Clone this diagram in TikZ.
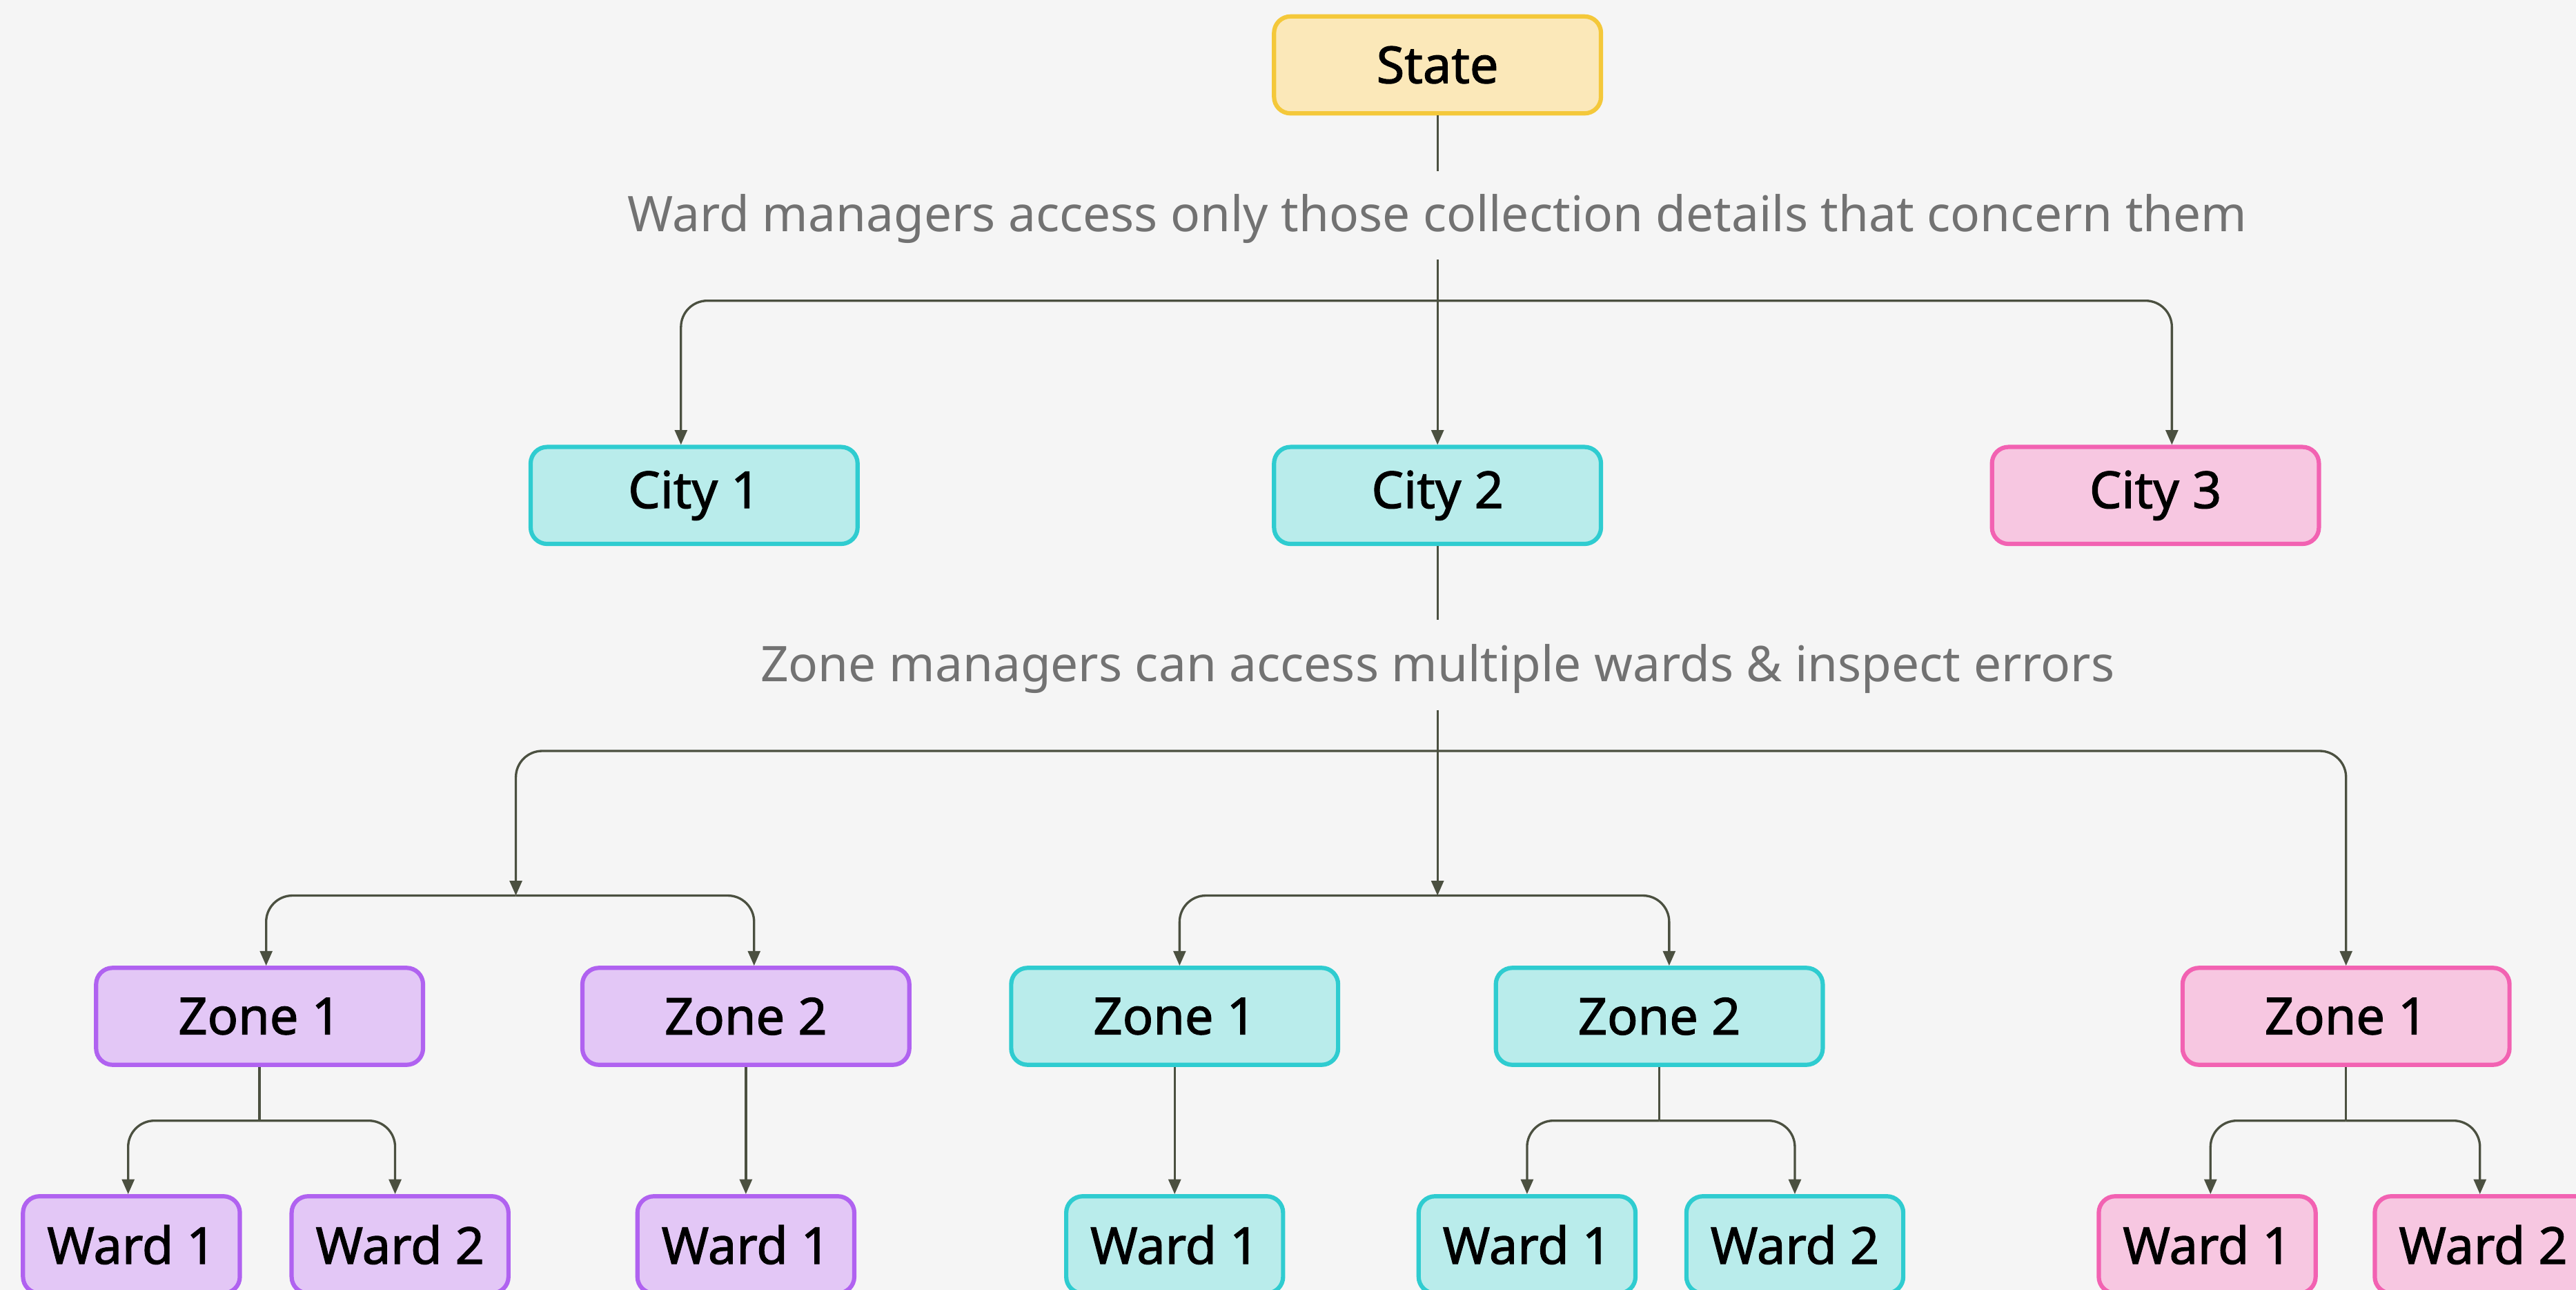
\documentclass[tikz,border=0pt]{standalone}
\usepackage{fontspec}
\setmainfont{Noto Sans}
\newfontfamily\labelfont[FakeBold=1.6]{Noto Sans}
\usetikzlibrary{arrows.meta}
\definecolor{bgC}{HTML}{F5F5F5}
\definecolor{connC}{HTML}{4B5040}
\definecolor{noteC}{HTML}{727272}
\definecolor{yelF}{HTML}{FBE8B9}
\definecolor{yelB}{HTML}{F4C83A}
\definecolor{cyaF}{HTML}{B9ECEB}
\definecolor{cyaB}{HTML}{2FCCD0}
\definecolor{pinF}{HTML}{F7C7E1}
\definecolor{pinB}{HTML}{F262B2}
\definecolor{purF}{HTML}{E3C7F6}
\definecolor{purB}{HTML}{B062F0}
\tikzset{
  box/.style={rounded corners=10pt, line width=2.6pt, minimum height=59pt, inner sep=0pt,
    font=\labelfont\fontsize{31}{36}\selectfont, text=black},
  bigbox/.style={box, minimum width=199pt},
  smallbox/.style={box, minimum width=132pt},
  yel/.style={draw=yelB, fill=yelF},
  cya/.style={draw=cyaB, fill=cyaF},
  pin/.style={draw=pinB, fill=pinF},
  pur/.style={draw=purB, fill=purF},
  note/.style={font=\fontsize{29.9}{34}\selectfont, text=noteC, inner sep=0pt},
  conn/.style={line width=1.4pt, draw=connC},
  arr/.style={conn, -{Triangle[length=9pt,width=7.5pt]}},
  bus/.style={rounded corners=16pt}
}
\begin{document}
\begin{tikzpicture}[x=1pt,y=-1pt]
\fill[bgC] (0,0) rectangle (1568,785);
\useasboundingbox (0,0) rectangle (1568,785);
\begin{scope}
\clip (0,0) rectangle (1568,785);
% nodes
\node[bigbox,yel] (state) at (875,39.5) {State};
\node[note] (t1) at (875,133) {Ward managers access only those collection details that concern them};
\node[bigbox,cya] (city1) at (422.5,301.5) {City 1};
\node[bigbox,cya] (city2) at (875,301.5) {City 2};
\node[bigbox,pin] (city3) at (1312,301.5) {City 3};
\node[note] (t2) at (875,407) {Zone managers can access multiple wards \& inspect errors};
\node[bigbox,pur] (pz1) at (158,618.5) {Zone 1};
\node[bigbox,pur] (pz2) at (454,618.5) {Zone 2};
\node[bigbox,cya] (cz1) at (715,618.5) {Zone 1};
\node[bigbox,cya] (cz2) at (1010,618.5) {Zone 2};
\node[bigbox,pin] (kz1) at (1428,618.5) {Zone 1};
\node[smallbox,pur] (pw1) at (80,757.5) {Ward 1};
\node[smallbox,pur] (pw2) at (243.5,757.5) {Ward 2};
\node[smallbox,pur] (pw3) at (454,757.5) {Ward 1};
\node[smallbox,cya] (cw1) at (715,757.5) {Ward 1};
\node[smallbox,cya] (cw2) at (929.5,757.5) {Ward 1};
\node[smallbox,cya] (cw3) at (1092.5,757.5) {Ward 2};
\node[smallbox,pin] (kw1) at (1343.5,757.5) {Ward 1};
\node[smallbox,pin] (kw2) at (1511.5,757.5) {Ward 2};
% free ends
\coordinate (s1) at (875,104);
\coordinate (h1) at (875,158);
\coordinate (b1) at (875,183);
\coordinate (s2) at (875,377);
\coordinate (h2) at (875,432);
\coordinate (b2) at (875,457);
\coordinate (lb) at (314,545);
\coordinate (cb) at (875,545);
\coordinate (pb) at (158,682);
\coordinate (qb) at (1010,682);
\coordinate (kb) at (1428,682);
% connectors
\draw[conn] (state.south) -- (s1);
\draw[arr] (h1) -- (city2.north);
\draw[arr,bus] (b1) -| ([xshift=-8pt]city1.north);
\draw[arr,bus] (b1) -| ([xshift=10pt]city3.north);
\draw[conn] (city2.south) -- (s2);
\draw[arr] (h2) -- (cb);
\draw[arr,bus] (b2) -| (lb);
\draw[arr,bus] (b2) -| (kz1.north);
\draw[arr,bus] (lb) -| ([xshift=4pt]pz1.north);
\draw[arr,bus] (lb) -| ([xshift=5pt]pz2.north);
\draw[arr,bus] (cb) -| ([xshift=3pt]cz1.north);
\draw[arr,bus] (cb) -| ([xshift=6pt]cz2.north);
\draw[conn] (pz1.south) -- (pb);
\draw[arr,bus] (pb) -| ([xshift=-2pt]pw1.north);
\draw[arr,bus] (pb) -| ([xshift=-3pt]pw2.north);
\draw[arr] (pz2.south) -- (pw3.north);
\draw[arr] (cz1.south) -- (cw1.north);
\draw[conn] (cz2.south) -- (qb);
\draw[arr,bus] (qb) -| (cw2.north);
\draw[arr,bus] (qb) -| (cw3.north);
\draw[conn] (kz1.south) -- (kb);
\draw[arr,bus] (kb) -| ([xshift=2pt]kw1.north);
\draw[arr,bus] (kb) -| ([xshift=-2pt]kw2.north);
\end{scope}
\end{tikzpicture}
\end{document}
